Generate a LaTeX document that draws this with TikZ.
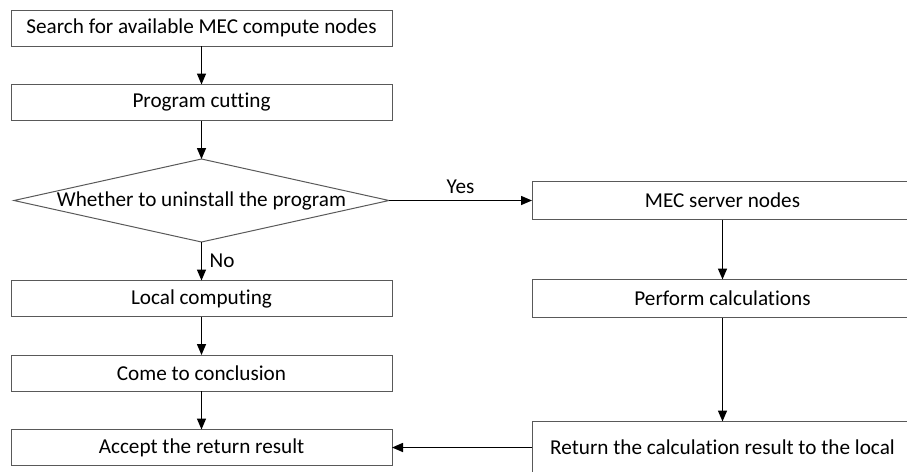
\documentclass[tikz,border=0pt]{standalone}
\usepackage{fontspec}
\setmainfont[Ligatures={NoCommon,NoRequired}]{Carlito}
\usetikzlibrary{arrows.meta, positioning, shapes.geometric}

\begin{document}
\begin{tikzpicture}[x=1pt,y=1pt,
		font=\fontsize{21.2}{25}\selectfont,
		flow/.style={-{Triangle[length=11pt,width=9pt]}, line width=1.5pt}
	]

	\tikzset{
		stepbox/.style={
				rectangle, draw=black!65, line width=1pt, inner sep=0pt, outer sep=0pt, minimum width=381pt, minimum height=36pt
			},
		choice/.style={
				diamond, draw=black!65, line width=1pt, inner sep=0pt, outer sep=0pt, minimum width=375pt, minimum height=83pt
			},
	}
	\useasboundingbox (0,0) rectangle (907,-471);
	\clip (0,0) rectangle (907,-471);

	\node[stepbox](search) at (201.5,-28){Search for available MEC compute nodes};
	\node[stepbox, below=38.5pt of search](cut){Program cutting};
	\node[choice, below=38.5pt of cut, label=center:Whether to uninstall the program](choose){};
	\node[stepbox, below=38.5pt of choose](local){Local computing};
	\node[stepbox, below=38.5pt of local](concl){Come to conclusion};
	\node[stepbox, below=38.5pt of concl](accept){Accept the return result};

	\node[stepbox, minimum height=38pt, right=143pt of choose](server){MEC server nodes};
	\node[stepbox, minimum height=38pt, below=60pt of server](perform){Perform calculations};
	\node[stepbox, minimum height=52pt, below=104pt of perform](back){Return the calculation result to the local};

	\draw[flow] (search) -- (cut);
	\draw[flow] (cut) -- (choose);
	\draw[flow] (choose) -- node[right=4pt]{No} (local);
	\draw[flow] (local) -- (concl);
	\draw[flow] (concl) -- (accept);

	\draw[flow] (choose) -- node[above=3pt]{Yes} (server);
	\draw[flow] (server) -- (perform);
	\draw[flow] (perform) -- (back);
	\draw[flow] (back.west) -- (back.west -| accept.east);

\end{tikzpicture}
\end{document}
